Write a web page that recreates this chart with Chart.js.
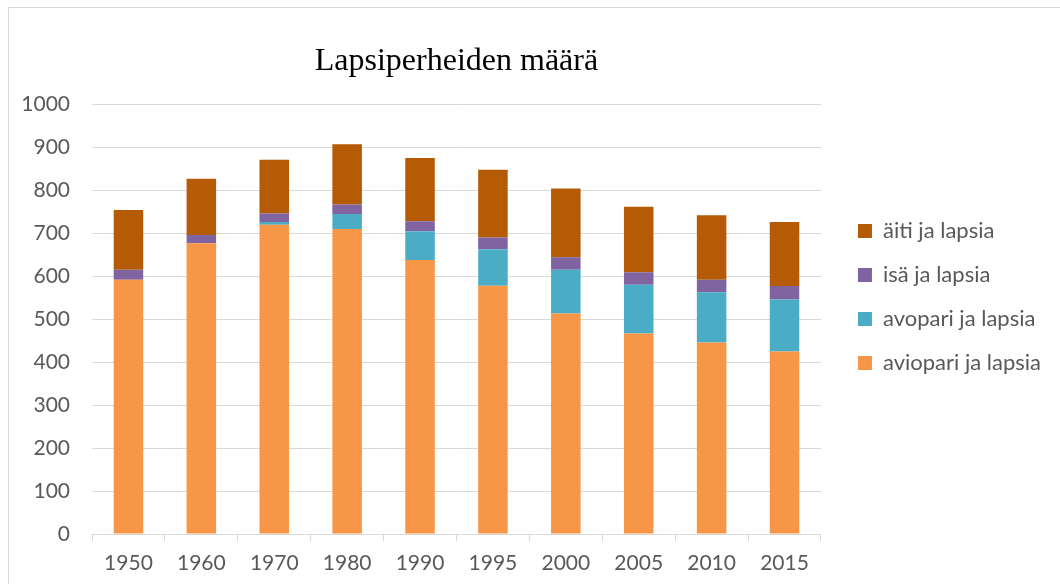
<!DOCTYPE html>
<html>
<head>
<meta charset="utf-8">
<script src="https://cdn.jsdelivr.net/npm/chart.js@4/dist/chart.umd.min.js"></script>
<style>
  html, body { margin: 0; padding: 0; background: #ffffff; }
  #frame { position: absolute; left: 8px; top: 7px; width: 1060px; height: 584px;
           border-left: 1px solid #d9d9d9; border-top: 1px solid #d9d9d9; }
  #wrap { position: absolute; left: 0; top: 0; width: 1060px; height: 584px; }
</style>
</head>
<body>
<div id="frame"></div>
<div id="wrap"><canvas id="c" width="1060" height="584"></canvas></div>
<script>
const titleText = "Lapsiperheiden määrä";
const years = ["1950", "1960", "1970", "1980", "1990", "1995", "2000", "2005", "2010", "2015"];
const aviopari = [592, 677, 720, 710, 638, 578, 513, 467, 446, 425];
const avopari  = [0, 0, 6, 35, 67, 85, 102, 113, 117, 121];
const isa      = [23, 19, 20, 22, 23, 27, 29, 29, 29, 31];
const aiti     = [139, 131, 125, 140, 147, 158, 160, 153, 150, 149];
const seriesNames = ["aviopari ja lapsia", "avopari ja lapsia", "isä ja lapsia", "äiti ja lapsia"];
const yTicks = [0, 100, 200, 300, 400, 500, 600, 700, 800, 900, 1000];

const colors = ["#F79646", "#4BACC6", "#8064A2", "#B55A05"];
const seriesData = [aviopari, avopari, isa, aiti];

const textColor = "#595959";
const gridColor = "#d9d9d9";
const tickFont = { family: "Lato, 'Open Sans', sans-serif", size: 21 };
const legendFont = { family: "Lato, 'Open Sans', sans-serif", size: 22 };

// let the legend take the width its labels need
const legendRoom = {
  id: "legendRoom",
  beforeLayout(chart) {
    const lg = chart.legend;
    if (lg && !lg.__roomy) {
      const u = lg.update;
      lg.update = function (maxWidth, maxHeight, margins) {
        return u.call(this, Math.max(maxWidth, 300), maxHeight, margins);
      };
      lg.__roomy = true;
    }
  }
};

new Chart(document.getElementById("c"), {
  type: "bar",
  data: {
    labels: years,
    datasets: seriesNames.map((name, i) => ({
      label: name,
      data: seriesData[i],
      backgroundColor: colors[i],
      borderWidth: 0,
      categoryPercentage: 1.0,
      barPercentage: 0.405
    }))
  },
  plugins: [legendRoom],
  options: {
    responsive: false,
    animation: false,
    devicePixelRatio: 1,
    layout: { padding: { left: 0, right: 9, top: 10, bottom: 0 } },
    plugins: {
      title: {
        display: true,
        text: titleText,
        fullSize: false,
        color: "#000000",
        font: { family: "'Liberation Serif', 'Times New Roman', serif", size: 32, weight: "normal", lineHeight: 1.2 },
        padding: { top: 32, bottom: 24 }
      },
      legend: {
        position: "right",
        align: "center",
        reverse: true,
        labels: {
          boxWidth: 14,
          boxHeight: 14,
          padding: 22,
          color: textColor,
          font: legendFont
        }
      },
      tooltip: { enabled: false }
    },
    scales: {
      x: {
        stacked: true,
        grid: {
          display: true,
          drawOnChartArea: false,
          drawTicks: true,
          tickLength: 7,
          color: gridColor,
          offset: true
        },
        border: { display: true, color: gridColor, width: 1 },
        ticks: { color: textColor, font: tickFont, padding: 10, maxRotation: 0 },
        afterFit(s) { s.height = 50; }
      },
      y: {
        stacked: true,
        min: 0,
        max: 1000,
        afterBuildTicks(s) { s.ticks = yTicks.map(v => ({ value: v })); },
        grid: { color: gridColor, lineWidth: 1, drawTicks: false },
        border: { display: false },
        ticks: { color: textColor, font: tickFont, padding: 22, callback: v => String(v) },
        afterFit(s) { s.width = 92; }
      },
      spacer: {
        type: "linear",
        position: "right",
        display: true,
        grid: { display: false },
        border: { display: false },
        ticks: { display: false },
        afterFit(s) { s.width = 15; }
      }
    }
  }
});
</script>
</body>
</html>
